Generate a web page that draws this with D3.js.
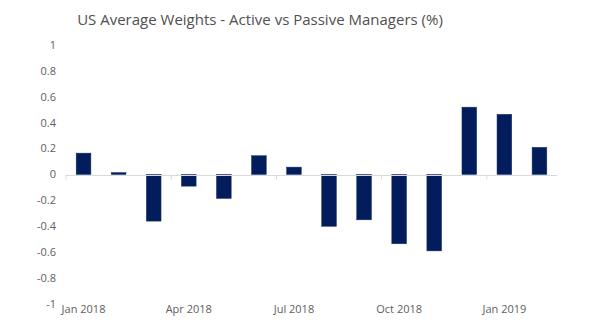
<!DOCTYPE html>
<html>
<head>
<meta charset="utf-8">
<script src="https://cdn.jsdelivr.net/npm/d3@7"></script>
<style>
  body { margin: 0; background: #fff; }
  svg { display: block; }
  .title { font-family: "Open Sans", sans-serif; font-size: 15px; fill: #505050; text-anchor: middle; }
  .tick-label { font-family: "Open Sans", sans-serif; font-size: 11px; fill: #606060; }
</style>
</head>
<body>
<div id="main"></div>
<script>
const W = 600;
const H = 333;

const months = ["Jan 2018", "Feb 2018", "Mar 2018", "Apr 2018", "May 2018", "Jun 2018", "Jul 2018",
  "Aug 2018", "Sep 2018", "Oct 2018", "Nov 2018", "Dec 2018", "Jan 2019", "Feb 2019"];
const weights = [0.165, 0.015, -0.36, -0.09, -0.185, 0.145, 0.057, -0.40, -0.35, -0.535, -0.59, 0.52, 0.465, 0.21];
const yTicks = [1, 0.8, 0.6, 0.4, 0.2, 0, -0.2, -0.4, -0.6, -0.8, -1];
const xLabels = ["Jan 2018", "Apr 2018", "Jul 2018", "Oct 2018", "Jan 2019"];

const svg = d3.select("#main").append("svg").attr("width", W).attr("height", H);

svg.append("text")
  .attr("class", "title")
  .attr("x", 260)
  .attr("y", 25)
  .text("US Average Weights - Active vs Passive Managers (%)");

const x = d3.scaleBand().domain(months).range([66, 557]).paddingInner(0.58).paddingOuter(0.29);
const y = d3.scaleLinear().domain([-1, 1]).range([304, 45]);

// y tick labels (no axis line)
svg.append("g")
  .selectAll("text")
  .data(yTicks)
  .join("text")
  .attr("class", "tick-label")
  .attr("x", 56)
  .attr("y", (d) => y(d))
  .attr("dy", "0.35em")
  .attr("text-anchor", "end")
  .text((d) => String(d));

// bars
svg.append("g")
  .selectAll("rect")
  .data(weights)
  .join("rect")
  .attr("x", (d, i) => x(months[i]))
  .attr("width", x.bandwidth())
  .attr("y", (d) => y(Math.max(0, d)))
  .attr("height", (d) => Math.abs(y(d) - y(0)))
  .attr("fill", "#031c5b")
  .attr("stroke", "#1c3470")
  .attr("stroke-width", 0.5);

// zero line with quarterly ticks
const step = x.step();
const zero = Math.round(y(0)) + 0.5;
svg.append("line")
  .attr("x1", 66).attr("x2", 557)
  .attr("y1", zero).attr("y2", zero)
  .attr("stroke", "#d9d9d9")
  .attr("stroke-width", 1.2);

svg.append("g")
  .selectAll("line")
  .data(d3.range(0, months.length + 1, 3))
  .join("line")
  .attr("x1", (i) => 66 + i * step)
  .attr("x2", (i) => 66 + i * step)
  .attr("y1", zero)
  .attr("y2", zero + 4)
  .attr("stroke", "#d9d9d9");

// x labels
svg.append("g")
  .selectAll("text")
  .data(xLabels)
  .join("text")
  .attr("class", "tick-label")
  .attr("x", (d) => x(d) + x.bandwidth() / 2)
  .attr("y", 313)
  .attr("text-anchor", "middle")
  .text((d) => d);
</script>
</body>
</html>
